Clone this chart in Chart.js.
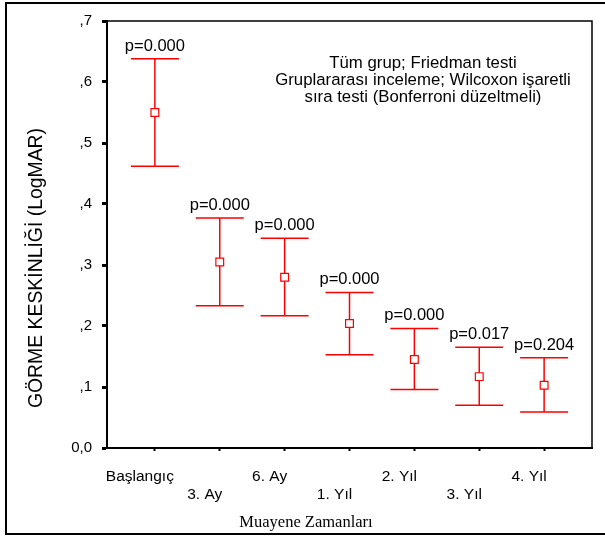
<!DOCTYPE html>
<html>
<head>
<meta charset="utf-8">
<script src="https://cdn.jsdelivr.net/npm/chart.js@4/dist/chart.umd.min.js"></script>
<style>
  html, body { margin: 0; padding: 0; background: #fff; }
  #wrap { width: 605px; height: 539px; position: relative; }
</style>
</head>
<body>
<div id="wrap"><canvas id="chart" width="605" height="539"></canvas></div>
<script>
const labels = ['Başlangıç', '3. Ay', '6. Ay', '1. Yıl', '2. Yıl', '3. Yıl', '4. Yıl'];
const means = [0.550, 0.305, 0.280, 0.204, 0.145, 0.117, 0.103];
const lower = [0.462, 0.233, 0.217, 0.153, 0.096, 0.070, 0.059];
const upper = [0.638, 0.377, 0.344, 0.255, 0.196, 0.165, 0.148];
const pValues = ['p=0.000', 'p=0.000', 'p=0.000', 'p=0.000', 'p=0.000', 'p=0.017', 'p=0.204'];
const yTicks = [0, 0.1, 0.2, 0.3, 0.4, 0.5, 0.6, 0.7];
const note = [
    'Tüm grup; Friedman testi',
    'Gruplararası inceleme; Wilcoxon işaretli',
    'sıra testi (Bonferroni düzeltmeli)'
];

const SANS = '"Liberation Sans", Arial, sans-serif';
const RED = '#ff0000';

// whiskers + p labels, drawn under the mean squares
const errorBars = {
    id: 'errorBars',
    beforeDatasetsDraw(chart) {
        const { ctx, scales: { x, y } } = chart;
        ctx.save();
        ctx.strokeStyle = RED;
        ctx.lineWidth = 1.5;
        labels.forEach((l, i) => {
            const px = x.getPixelForValue(i);
            const yl = y.getPixelForValue(lower[i]);
            const yu = y.getPixelForValue(upper[i]);
            ctx.beginPath();
            ctx.moveTo(px, yl); ctx.lineTo(px, yu);
            ctx.moveTo(px - 24, yu); ctx.lineTo(px + 24, yu);
            ctx.moveTo(px - 24, yl); ctx.lineTo(px + 24, yl);
            ctx.stroke();
        });
        ctx.fillStyle = '#000';
        ctx.font = '16.5px ' + SANS;
        ctx.textAlign = 'center';
        ctx.textBaseline = 'alphabetic';
        labels.forEach((l, i) => {
            ctx.fillText(pValues[i], x.getPixelForValue(i), y.getPixelForValue(upper[i]) - 8);
        });
        ctx.restore();
    }
};

// frame, plot box, titles, note
const decor = {
    id: 'decor',
    afterDraw(chart) {
        const { ctx, chartArea: a } = chart;
        ctx.save();
        ctx.strokeStyle = '#000';
        ctx.lineWidth = 1.5;
        ctx.beginPath();
        ctx.moveTo(a.left, a.top); ctx.lineTo(a.right, a.top); ctx.lineTo(a.right, a.bottom);
        ctx.stroke();

        ctx.lineWidth = 2;
        ctx.strokeRect(6, 3, 620, 531);

        ctx.fillStyle = '#000';
        ctx.textAlign = 'center';
        ctx.textBaseline = 'alphabetic';
        ctx.font = '16.8px ' + SANS;
        note.forEach((t, i) => ctx.fillText(t, 423, 67.5 + i * 17.2));

        ctx.font = '16.5px "Liberation Serif", "Times New Roman", serif';
        ctx.textBaseline = 'middle';
        ctx.fillText('Muayene Zamanları', 306, 523);

        ctx.translate(37, 268);
        ctx.rotate(-Math.PI / 2);
        ctx.font = '19.4px ' + SANS;
        ctx.fillText('GÖRME KESKİNLİĞİ (LogMAR)', 0, 0);
        ctx.restore();
    }
};

new Chart(document.getElementById('chart'), {
    type: 'scatter',
    data: {
        datasets: [{
            data: means.map((m, i) => ({ x: i, y: m })),
            pointStyle: 'rect',
            pointRadius: 5.5,
            pointHoverRadius: 5.5,
            borderColor: RED,
            borderWidth: 1.2,
            backgroundColor: '#fff'
        }]
    },
    options: {
        responsive: false,
        animation: false,
        events: [],
        layout: { padding: { top: 21, right: 13, left: 0, bottom: 0 } },
        plugins: { legend: { display: false }, tooltip: { enabled: false } },
        scales: {
            x: {
                type: 'linear',
                min: -0.738,
                max: 6.738,
                afterBuildTicks: s => { s.ticks = labels.map((l, i) => ({ value: i })); },
                afterFit: s => { s.height = 91; },
                border: { color: '#000', width: 2 },
                grid: { drawOnChartArea: false, drawTicks: true, tickLength: 3, tickWidth: 2, tickColor: '#000' },
                ticks: {
                    color: '#000',
                    font: { family: SANS, size: 15.5 },
                    padding: 16,
                    labelOffset: -15,
                    maxRotation: 0,
                    autoSkip: false,
                    callback: v => (v % 2 === 0 ? [labels[v], ''] : ['', labels[v]])
                }
            },
            y: {
                min: 0,
                max: 0.7,
                afterBuildTicks: s => { s.ticks = yTicks.map(v => ({ value: v })); },
                afterFit: s => { s.width = 107; },
                border: { color: '#000', width: 2 },
                grid: { drawOnChartArea: false, drawTicks: true, tickLength: 5, tickWidth: 3, tickColor: '#000' },
                ticks: {
                    color: '#000',
                    font: { family: SANS, size: 15 },
                    padding: 10,
                    callback: v => (v === 0 ? '0,0' : ',' + Math.round(v * 10))
                }
            }
        }
    },
    plugins: [errorBars, decor]
});
</script>
</body>
</html>
